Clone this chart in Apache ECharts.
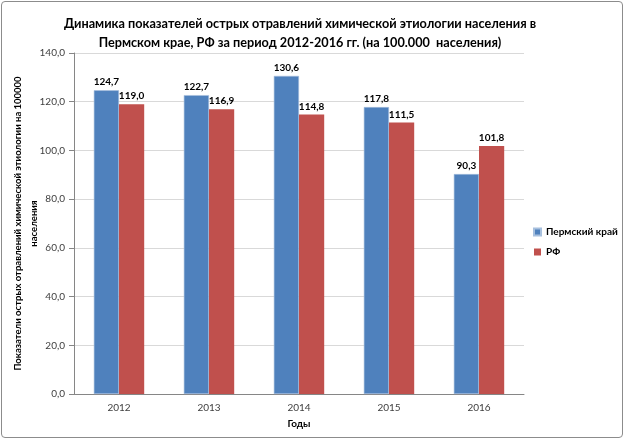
<!DOCTYPE html>
<html>
<head>
    <meta charset="utf-8">
    <title>Отравления химической этиологии</title>
    <script src="https://cdn.jsdelivr.net/npm/echarts@6/dist/echarts.min.js"></script>
    <style>
        html, body { margin: 0; padding: 0; background: #fff; }
        #main { position: absolute; left: 1px; top: 1px; width: 620px; height: 435px;
                border: 1px solid #8c8c8c; border-radius: 4px; }
    </style>
</head>
<body>
    <div id="main"></div>
    <script type="text/javascript">
        // данные
        var years = ['2012', '2013', '2014', '2015', '2016'];
        var perm = [124.7, 122.7, 130.6, 117.8, 90.3];
        var rf = [119.0, 116.9, 114.8, 111.5, 101.8];
        var seriesNames = ['Пермский край', 'РФ'];

        var font = 'Lato';
        var myChart = echarts.init(document.getElementById('main'));

        var fmt = function (v) { return v.toFixed(1).replace('.', ','); };

        var option = {
            textStyle: { fontFamily: font },
            title: {
                text: 'Динамика показателей острых отравлений химической этиологии населения в\nПермском крае, РФ за период 2012-2016 гг. (на 100.000  населения)',
                left: 293, top: 7, textAlign: 'center',
                textStyle: { fontSize: 12.7, fontWeight: 'bold', color: '#000', lineHeight: 19, fontFamily: font }
            },
            legend: {
                orient: 'vertical',
                left: 531, top: 225,
                padding: 0,
                itemWidth: 7, itemHeight: 7, itemGap: 10,
                icon: 'rect',
                textStyle: { fontSize: 10, fontWeight: 'bold', color: '#000', fontFamily: font },
                data: seriesNames
            },
            grid: { left: 72, right: 98, top: 51, bottom: 43, outerBoundsMode: 'none' },
            xAxis: {
                type: 'category',
                data: years,
                name: 'Годы',
                nameLocation: 'middle',
                nameGap: 25,
                nameTextStyle: { fontSize: 10, fontWeight: 'bold', color: '#000' },
                axisLine: { lineStyle: { color: '#868686' } },
                axisTick: { show: false },
                axisLabel: { fontSize: 10, color: '#404040', margin: 9 }
            },
            yAxis: {
                type: 'value',
                min: 0, max: 140, interval: 20,
                name: 'Показатели острых отравлений химической этиологии на 100000\nнаселения',
                nameLocation: 'middle',
                nameGap: 32,
                nameMoveOverlap: false,
                nameTextStyle: { fontSize: 9.5, fontWeight: 'bold', color: '#000', lineHeight: 16, align: 'center' },
                axisLine: { show: true, lineStyle: { color: '#868686' } },
                axisTick: { show: true, length: 5, lineStyle: { color: '#868686' } },
                axisLabel: { fontSize: 10, color: '#404040', formatter: fmt, margin: 9 },
                splitLine: { lineStyle: { color: '#d9d9d9' } }
            },
            series: [{
                name: seriesNames[0],
                type: 'bar',
                data: perm,
                barGap: '0%',
                barCategoryGap: '44%',
                itemStyle: { color: '#4f81bd', borderColor: '#a7c0de', borderWidth: 0.6 },
                label: { show: true, position: 'top', formatter: function (p) { return fmt(p.value); },
                    fontSize: 10, fontWeight: 'bold', color: '#000', distance: 3 }
            }, {
                name: seriesNames[1],
                type: 'bar',
                data: rf,
                itemStyle: { color: '#c0504d' },
                label: { show: true, position: 'top', formatter: function (p) { return fmt(p.value); },
                    fontSize: 10, fontWeight: 'bold', color: '#000', distance: 3 }
            }]
        };

        myChart.setOption(option);
    </script>
</body>
</html>
